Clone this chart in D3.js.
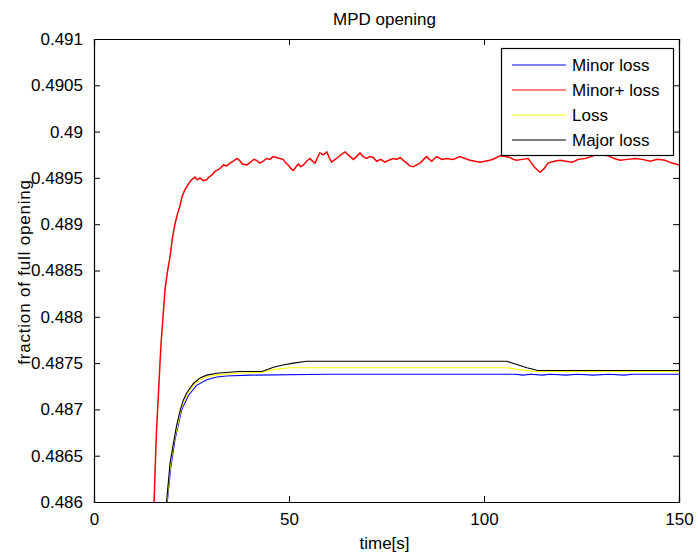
<!DOCTYPE html>
<html>
<head>
<meta charset="utf-8">
<script src="https://cdn.jsdelivr.net/npm/d3@7"></script>
<style>
  body { margin: 0; background: #fff; }
  text { font-family: "Liberation Sans", Arial, sans-serif; fill: #000; }
</style>
</head>
<body>
<script>
const width = 698;
const height = 557;
const margin = {left: 94, right: 19, top: 39, bottom: 55};

// series: [time (s), fraction of full opening]
const minorLoss = [
    [18.8, 0.48600], [19.7, 0.48638], [20.8, 0.48668], [22.5, 0.48700], [24.2, 0.48715],
    [26.3, 0.48726], [28.9, 0.48732], [31.5, 0.48735], [34.0, 0.48736], [40.0, 0.48737],
    [60.0, 0.48738], [108.0, 0.48738], [110.0, 0.48737], [112.0, 0.48738], [115.0, 0.48737],
    [117.0, 0.48738], [121.0, 0.48737], [124.0, 0.48738], [128.0, 0.48737], [132.0, 0.48738],
    [136.0, 0.48737], [138.0, 0.48738], [150.0, 0.48738]
];
const minorPlusLoss = [
    [15.0, 0.48580], [15.4, 0.48600], [16.0, 0.48675], [16.7, 0.48732], [17.2, 0.48772], [17.7, 0.48800],
    [18.2, 0.48829], [18.8, 0.48848], [19.5, 0.48865], [20.1, 0.48885], [20.8, 0.48901], [21.4, 0.48911],
    [22.0, 0.48919], [22.6, 0.48930], [23.3, 0.48937], [24.0, 0.48942], [24.6, 0.48946], [25.3, 0.48949],
    [25.9, 0.48951], [26.5, 0.48948], [27.2, 0.48950], [28.0, 0.48947], [28.9, 0.48948], [29.5, 0.48951],
    [30.2, 0.48953], [31.0, 0.48957], [31.9, 0.48959], [32.5, 0.48961], [33.2, 0.48964], [34.0, 0.48963],
    [34.9, 0.48966], [35.7, 0.48968], [36.6, 0.48971], [37.3, 0.48969], [38.0, 0.48965], [39.2, 0.48964],
    [39.8, 0.48966], [40.4, 0.48968], [41.0, 0.48970], [41.7, 0.48969], [42.5, 0.48966], [43.4, 0.48968],
    [44.2, 0.48971], [45.1, 0.48970], [45.9, 0.48973], [46.8, 0.48972], [47.6, 0.48971], [48.5, 0.48970],
    [49.2, 0.48966], [49.8, 0.48964], [50.5, 0.48960], [51.1, 0.48958], [51.8, 0.48962], [52.4, 0.48965],
    [53.0, 0.48962], [53.7, 0.48964], [54.5, 0.48968], [55.4, 0.48971], [56.0, 0.48968], [56.7, 0.48966],
    [57.3, 0.48972], [57.9, 0.48977], [58.8, 0.48975], [59.7, 0.48978], [60.3, 0.48972], [60.9, 0.48967],
    [61.5, 0.48969], [62.2, 0.48971], [63.3, 0.48975], [64.4, 0.48978], [65.4, 0.48974], [66.5, 0.48970],
    [67.3, 0.48973], [68.2, 0.48977], [69.0, 0.48973], [69.9, 0.48971], [70.7, 0.48973], [71.6, 0.48972],
    [72.5, 0.48968], [73.5, 0.48970], [74.6, 0.48967], [75.6, 0.48969], [76.7, 0.48971], [77.6, 0.48970],
    [78.5, 0.48972], [79.3, 0.48969], [80.2, 0.48966], [81.0, 0.48963], [81.9, 0.48962], [82.7, 0.48964],
    [83.6, 0.48966], [84.5, 0.48970], [85.3, 0.48973], [86.0, 0.48970], [86.6, 0.48968], [87.3, 0.48971],
    [87.9, 0.48973], [89.2, 0.48970], [90.4, 0.48971], [92.1, 0.48970], [93.8, 0.48973], [95.1, 0.48971],
    [96.4, 0.48969], [97.7, 0.48968], [99.0, 0.48967], [100.2, 0.48968], [101.5, 0.48969], [102.8, 0.48971],
    [104.1, 0.48974], [105.4, 0.48973], [106.7, 0.48972], [107.5, 0.48970], [108.4, 0.48969], [109.8, 0.48970],
    [111.3, 0.48971], [112.2, 0.48966], [113.1, 0.48961], [113.8, 0.48958], [114.4, 0.48956], [115.4, 0.48960],
    [116.4, 0.48966], [118.0, 0.48968], [119.5, 0.48969], [121.0, 0.48968], [122.6, 0.48967], [124.2, 0.48970],
    [125.9, 0.48971], [127.5, 0.48973], [129.2, 0.48976], [130.5, 0.48975], [131.8, 0.48974], [133.4, 0.48971],
    [134.9, 0.48969], [136.8, 0.48970], [138.7, 0.48971], [140.6, 0.48970], [142.6, 0.48968], [144.5, 0.48970],
    [146.4, 0.48969], [148.2, 0.48966], [150.0, 0.48964]
];
const loss = [
    [18.7, 0.48600], [19.6, 0.48640], [20.5, 0.48665], [22.3, 0.48700], [24.0, 0.48717],
    [25.8, 0.48728], [28.0, 0.48734], [31.0, 0.48737], [37.0, 0.48739], [43.0, 0.48740],
    [46.0, 0.48743], [50.0, 0.48745], [106.0, 0.48745], [109.0, 0.48743], [113.0, 0.48741],
    [150.0, 0.48741]
];
const majorLoss = [
    [18.6, 0.48600], [19.5, 0.48642], [20.3, 0.48662], [21.2, 0.48683], [22.1, 0.48699],
    [22.9, 0.48710], [23.8, 0.48718], [25.5, 0.48728], [27.2, 0.48734], [28.9, 0.48737],
    [31.5, 0.48739], [37.0, 0.48741], [43.0, 0.48741], [44.5, 0.48743], [46.0, 0.487455],
    [48.5, 0.48748], [51.1, 0.48750], [54.5, 0.48752], [105.8, 0.48752], [108.0, 0.48749],
    [111.0, 0.48745], [113.8, 0.48742], [150.0, 0.48742]
];

const seriesNames = ['Minor loss', 'Minor+ loss', 'Loss', 'Major loss'];
const seriesColors = ['#0000ff', '#ff0000', '#ffff00', '#000000'];
const seriesWidths = [1.1, 1.5, 1.1, 1.1];
const seriesData = [minorLoss, minorPlusLoss, loss, majorLoss];

const xTicks = [0, 50, 100, 150];
const yTicks = [0.486, 0.4865, 0.487, 0.4875, 0.488, 0.4885, 0.489, 0.4895, 0.49, 0.4905, 0.491];
const yTickLabels = ['0.486', '0.4865', '0.487', '0.4875', '0.488', '0.4885', '0.489', '0.4895', '0.49', '0.4905', '0.491'];

const svg = d3.select('body')
    .append('svg')
    .attr('width', width)
    .attr('height', height);

const x_scale = d3.scaleLinear()
    .domain([0, 150])
    .range([margin.left, width - margin.right]);
const y_scale = d3.scaleLinear()
    .domain([0.486, 0.491])
    .range([height - margin.bottom, margin.top]);

const x0 = margin.left, x1 = width - margin.right;
const y0 = margin.top, y1 = height - margin.bottom;

svg.append('defs').append('clipPath')
    .attr('id', 'plot_clip')
    .append('rect')
    .attr('x', x0).attr('y', y0)
    .attr('width', x1 - x0).attr('height', y1 - y0);

// curves
const line = d3.line()
    .x(d => x_scale(d[0]))
    .y(d => y_scale(d[1]));
const lines_g = svg.append('g').attr('clip-path', 'url(#plot_clip)');
lines_g.selectAll('path')
    .data(seriesData)
    .enter().append('path')
    .attr('d', line)
    .attr('fill', 'none')
    .attr('stroke', (d, i) => seriesColors[i])
    .attr('stroke-width', (d, i) => seriesWidths[i]);

// axes, ticks pointing inward on all four sides
const tickLen = 6;
const axis_g = svg.append('g');
axis_g.append('g')
    .attr('transform', `translate(0,${y1})`)
    .call(d3.axisBottom(x_scale).tickValues(xTicks).tickSize(-tickLen).tickPadding(tickLen + 5));
axis_g.append('g')
    .attr('transform', `translate(0,${y0})`)
    .call(d3.axisTop(x_scale).tickValues(xTicks).tickSize(-tickLen).tickFormat(''));
axis_g.append('g')
    .attr('transform', `translate(${x0},0)`)
    .call(d3.axisLeft(y_scale).tickValues(yTicks).tickSize(-tickLen)
        .tickPadding(tickLen + 5).tickFormat((d, i) => yTickLabels[i]));
axis_g.append('g')
    .attr('transform', `translate(${x1},0)`)
    .call(d3.axisRight(y_scale).tickValues(yTicks).tickSize(-tickLen).tickFormat(''));
axis_g.selectAll('.domain').attr('stroke', '#000').attr('stroke-width', 1.2);
axis_g.selectAll('.tick line').attr('stroke', '#000');
axis_g.selectAll('.tick text')
    .style('font-size', '17px')
    .style('font-family', '"Liberation Sans", Arial, sans-serif')
    .attr('fill', '#000');

// labels
svg.append('text')
    .attr('x', (x0 + x1) / 2 - 2)
    .attr('y', 25)
    .attr('text-anchor', 'middle')
    .style('font-size', '17px')
    .text('MPD opening');
svg.append('text')
    .attr('x', (x0 + x1) / 2 - 2)
    .attr('y', 549)
    .attr('text-anchor', 'middle')
    .style('font-size', '17px')
    .text('time[s]');
svg.append('text')
    .attr('transform', 'translate(30,272) rotate(-90)')
    .attr('text-anchor', 'middle')
    .style('font-size', '17px')
    .style('letter-spacing', '0.8px')
    .text('fraction of full opening');

// legend
const legend_g = svg.append('g');
legend_g.append('rect')
    .attr('x', 501.5).attr('y', 48.5)
    .attr('width', 172).attr('height', 107)
    .attr('fill', '#fff')
    .attr('stroke', '#000')
    .attr('stroke-width', 1.2);
const items = legend_g.selectAll('g.item')
    .data(seriesNames)
    .enter().append('g')
    .attr('class', 'item')
    .attr('transform', (d, i) => `translate(0,${65 + i * 25})`);
items.append('line')
    .attr('x1', 512).attr('x2', 566)
    .attr('stroke', (d, i) => seriesColors[i])
    .attr('stroke-width', 1.1);
items.append('text')
    .attr('x', 572)
    .attr('dy', '0.35em')
    .style('font-size', '17px')
    .text(d => d);
</script>
</body>
</html>
